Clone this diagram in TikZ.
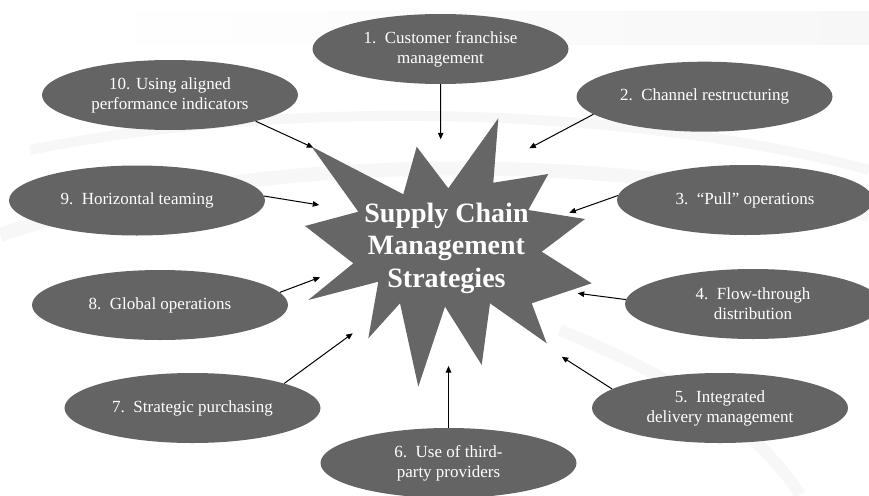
\documentclass[tikz,border=0pt]{standalone}
\usepackage{fontspec}
\setmainfont{Liberation Serif}
\usetikzlibrary{arrows.meta,shapes.geometric}
\definecolor{ovalgray}{HTML}{646464}
\definecolor{stargray}{HTML}{666666}
\definecolor{swoosh}{HTML}{F7F7F7}
\begin{document}
\begin{tikzpicture}[x=1pt,y=-1pt,
  oval/.style={ellipse, fill=ovalgray, text=white, inner sep=0pt,
    minimum width=256pt, minimum height=70pt, align=center,
    font=\fontsize{17}{20}\selectfont},
  arr/.style={line width=1pt, -{Triangle[length=6.5pt,width=5.5pt]}},
  hubtext/.style={text=white, align=center, inner sep=0pt,
    font=\fontsize{28}{32.5}\selectfont\bfseries}]
\useasboundingbox (0,0) rectangle (869,495);
% faint background swooshes
\shade[left color=white, right color=swoosh] (85,12) rectangle (869,45);
\draw[swoosh, line width=14pt] (0,235) .. controls (250,150) and (600,150) .. (869,215);
\draw[swoosh, line width=10pt] (30,150) .. controls (300,95) and (650,110) .. (869,170);
\draw[swoosh, line width=12pt] (560,330) .. controls (680,380) and (760,430) .. (800,495);
% central star
\fill[stargray] (311.7,146.7) -- (403.3,194.3) -- (416.7,146.7) -- (448.3,188.3)
  -- (498.3,118.3) -- (493.3,182.7) -- (548.3,174) -- (528.3,210)
  -- (585,219) -- (541.7,251.7) -- (591.7,283.3) -- (531.7,303.3)
  -- (546.7,343.3) -- (490,303.3) -- (481.7,365) -- (445,306.7)
  -- (418.3,386.7) -- (400,303.3) -- (368.3,338.3) -- (378.3,281.7)
  -- (308.3,300) -- (353.3,263.3) -- (305,226) -- (358.3,211.7) -- cycle;
\node[hubtext] (hub) at (446.5,248) {Supply Chain\\Management\\Strategies};
% ovals
\node[oval] (e1) at (440.5,49) {1.\ \ Customer franchise\\management};
\node[oval] (e2) at (704.5,96.7) {2.\ \ Channel restructuring};
\node[oval] (e3) at (745,200) {3.\ \ “Pull” operations};
\node[oval] (e4) at (753,304) {4.\ \ Flow-through\\distribution};
\node[oval] (e5) at (720,408) {5.\ \ Integrated\\delivery management};
\node[oval] (e6) at (448.5,463) {6.\ \ Use of third-\\party providers};
\node[oval] (e7) at (192.5,408) {7.\ \ Strategic purchasing};
\node[oval] (e8) at (160,305) {8.\ \ Global operations};
\node[oval] (e9) at (137,200.5) {9.\ \ Horizontal teaming};
\node[oval] (e10) at (170,95) {10. Using aligned\\performance indicators};
% arrow ends
\coordinate (a1) at (440.7,139.3);
\coordinate (a2) at (529.3,148.3);
\coordinate (a3) at (569.3,212.7);
\coordinate (a4) at (577.7,293.3);
\coordinate (a5) at (561.7,356.7);
\coordinate (a6) at (448.5,366);
\coordinate (a7) at (352.7,333.3);
\coordinate (a8) at (320,277.3);
\coordinate (a9) at (319.3,205);
\coordinate (a10) at (313.3,147.7);
% arrows
\draw[arr] (e1.south) -- (a1);
\draw[arr] (e2.189) -- (a2);
\draw[arr] (e3.178) -- (a3);
\draw[arr] (e4.178) -- (a4);
\draw[arr] (e5.170) -- (a5);
\draw[arr] (e6.north) -- (a6);
\draw[arr] (e7.15) -- (a7);
\draw[arr] (e8.6) -- (a8);
\draw[arr] (e9.2) -- (a9);
\draw[arr] (e10.343) -- (a10);
\end{tikzpicture}
\end{document}
